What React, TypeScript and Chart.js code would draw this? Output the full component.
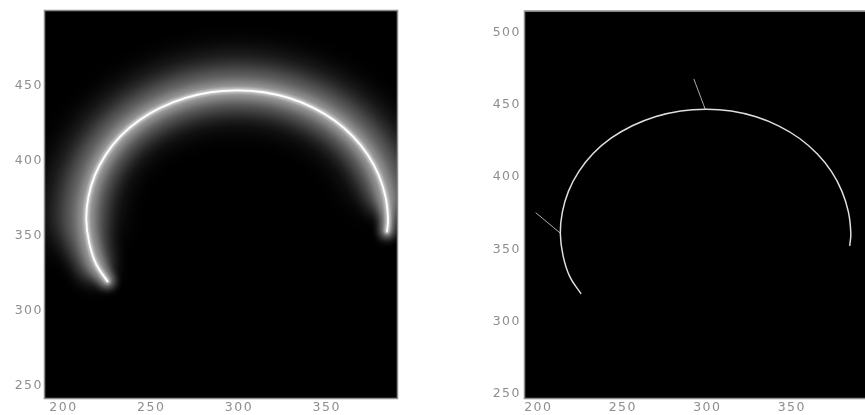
import React, { useEffect, useRef } from "react";
import { Chart, registerables } from "chart.js";

Chart.register(...registerables);

// Contour (snake) points
const curveX = [225.1, 218.6, 214.6, 213.0, 214.2, 217.8, 224.0, 232.4, 243.0, 255.6, 269.6, 284.2, 299.4, 314.2, 328.8, 342.4, 354.6, 365.0, 373.4, 379.6, 383.5, 384.9, 384.3];
const curveY = [319.6, 331.2, 345.8, 361.2, 375.8, 390.2, 404.0, 416.4, 427.0, 435.6, 442.0, 445.9, 447.1, 445.8, 441.8, 435.4, 426.8, 416.2, 404.0, 390.4, 375.8, 361.2, 352.8];

// Normal segments on the right panel
const normalAX = [298.6, 292.1];
const normalAY = [447.5, 467.7];
const normalBX = [212.8, 198.6];
const normalBY = [361.5, 375.3];

// Tick labels
const xTickValues = [200, 250, 300, 350];
const leftYTickValues = [250, 300, 350, 400, 450];
const rightYTickValues = [250, 300, 350, 400, 450, 500];

// Axis ranges
const leftXRange = [189.5, 390];
const leftYRange = [241.8, 500];
const rightXRange = [192.1, 400.4];
const rightYRange = [247.2, 514.7];

const toPts = (xs: number[], ys: number[], from = 0, to = xs.length) =>
  xs.slice(from, to).map((x, i) => ({ x, y: ys[from + i] }));

const framePlugin = {
  id: "frameBg",
  beforeDraw(chart: any) {
    const { ctx, chartArea: a } = chart;
    ctx.save();
    ctx.fillStyle = "#000";
    ctx.fillRect(a.left, a.top, a.right - a.left, a.bottom - a.top);
    ctx.restore();
    ctx.letterSpacing = "1.5px";
  },
  afterDraw(chart: any) {
    const { ctx, chartArea: a } = chart;
    ctx.save();
    ctx.strokeStyle = "#8c8c8c";
    ctx.lineWidth = 1.5;
    ctx.strokeRect(a.left - 0.5, a.top - 0.5, a.right - a.left + 1, a.bottom - a.top + 1);
    ctx.restore();
  },
};

// Soft glow: clip to the plot, blur each layer, optionally spread it outward
const blurPlugin = {
  id: "blurLayers",
  beforeDatasetDraw(chart: any, args: any) {
    const ds = chart.data.datasets[args.index];
    const { ctx, chartArea: a } = chart;
    ctx.save();
    ctx.beginPath();
    ctx.rect(a.left, a.top, a.right - a.left, a.bottom - a.top);
    ctx.clip();
    if (ds.blur) ctx.filter = `blur(${ds.blur}px)`;
    if (ds.grow && ds.grow !== 1) {
      const pts = chart.getDatasetMeta(chart.data.datasets.length - 1).data;
      let x0 = Infinity, x1 = -Infinity, y0 = Infinity, y1 = -Infinity;
      for (const p of pts) {
        x0 = Math.min(x0, p.x); x1 = Math.max(x1, p.x);
        y0 = Math.min(y0, p.y); y1 = Math.max(y1, p.y);
      }
      const cx = (x0 + x1) / 2, cy = (y0 + y1) / 2;
      ctx.translate(cx, cy);
      ctx.scale(ds.grow, ds.grow);
      ctx.translate(-cx, -cy);
    }
  },
  afterDatasetDraw(chart: any) {
    chart.ctx.restore();
  },
};

function scales(xr: number[], yr: number[], yTicks: number[], yPad: number) {
  const font = { family: "DejaVu Sans", size: 12.5 };
  return {
    x: {
      type: "linear",
      min: xr[0],
      max: xr[1],
      grid: { display: false, drawTicks: false },
      border: { display: false },
      afterBuildTicks: (s: any) => {
        s.ticks = xTickValues.map((v) => ({ value: v }));
      },
      afterFit: (s: any) => {
        s.height = 17;
      },
      ticks: { color: "#8e8e8e", font, padding: 2, maxRotation: 0, autoSkip: false },
    },
    y: {
      type: "linear",
      min: yr[0],
      max: yr[1],
      grid: { display: false, drawTicks: false },
      border: { display: false },
      afterBuildTicks: (s: any) => {
        s.ticks = yTicks.map((v) => ({ value: v }));
      },
      afterFit: (s: any) => {
        s.width = 45;
      },
      ticks: { color: "#8e8e8e", font, padding: yPad, autoSkip: false },
    },
  };
}

function line(data: any[], color: string, width: number, blur: number, order: number, grow = 1) {
  return {
    data,
    showLine: true,
    borderColor: color,
    borderWidth: width,
    pointRadius: 0,
    tension: 0.4,
    borderCapStyle: "round",
    borderJoinStyle: "round",
    clip: false,
    blur,
    grow,
    order,
  };
}

function useChart(ref: any, config: any) {
  useEffect(() => {
    const chart = new Chart(ref.current, config);
    return () => chart.destroy();
  }, []);
}

export default function App() {
  const leftRef = useRef<HTMLCanvasElement>(null);
  const rightRef = useRef<HTMLCanvasElement>(null);

  useChart(leftRef, {
    type: "scatter",
    data: {
      datasets: [
        line(toPts(curveX, curveY, 3, 20), "rgb(68,68,68)", 56, 15, 5, 1.04),
        line(toPts(curveX, curveY, 1, 21), "rgb(118,118,118)", 32, 9, 4, 1.01),
        line(toPts(curveX, curveY, 0, 23), "rgb(160,160,160)", 14, 4, 3),
        line(toPts(curveX, curveY, 0, 23), "rgb(215,215,215)", 4.5, 1.5, 2),
        line(toPts(curveX, curveY), "#ffffff", 1.8, 0.5, 1),
      ],
    },
    options: {
      responsive: false,
      animation: false,
      layout: { padding: { left: 0, top: 11, right: 33, bottom: 0 } },
      plugins: { legend: { display: false }, tooltip: { enabled: false } },
      scales: scales(leftXRange, leftYRange, leftYTickValues, 2),
    },
    plugins: [framePlugin, blurPlugin],
  });

  useChart(rightRef, {
    type: "scatter",
    data: {
      datasets: [
        line(toPts(normalAX, normalAY), "#b0b0b0", 1, 0, 2),
        line(toPts(normalBX, normalBY), "#b0b0b0", 1, 0, 3),
        line(toPts(curveX, curveY), "#dedede", 1.5, 0, 1),
      ],
    },
    options: {
      responsive: false,
      animation: false,
      layout: { padding: { left: 0, top: 11, right: 8, bottom: 0 } },
      plugins: { legend: { display: false }, tooltip: { enabled: false } },
      scales: scales(rightXRange, rightYRange, rightYTickValues, 4),
    },
    plugins: [framePlugin, blurPlugin],
  });

  return (
    <div
      style={{
        position: "fixed",
        left: 0,
        top: 0,
        width: 865,
        height: 415,
        overflow: "hidden",
        background: "#fff",
      }}
    >
      <canvas ref={leftRef} width={430} height={415} style={{ position: "absolute", left: 0, top: 0 }} />
      <canvas ref={rightRef} width={405} height={415} style={{ position: "absolute", left: 480, top: 0 }} />
    </div>
  );
}
